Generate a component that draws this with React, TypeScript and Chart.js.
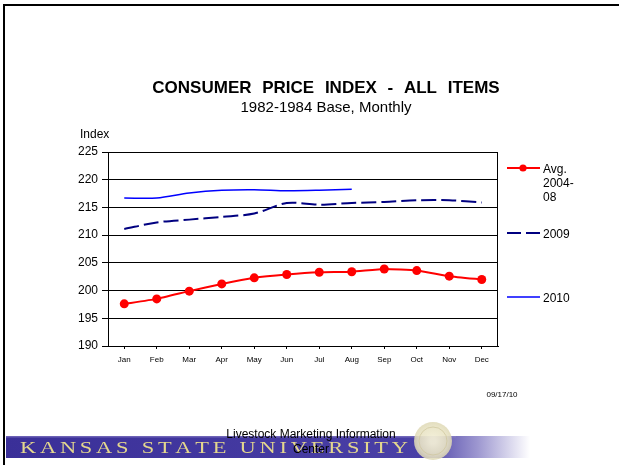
import React, { useEffect, useRef } from "react";
import { Chart, registerables } from "chart.js";

Chart.register(...registerables);

const months = ["Jan", "Feb", "Mar", "Apr", "May", "Jun", "Jul", "Aug", "Sep", "Oct", "Nov", "Dec"];
const avg0408 = [197.6, 198.5, 199.9, 201.2, 202.3, 202.9, 203.3, 203.4, 203.9, 203.6, 202.6, 202.0];
const cpi2009 = [211.1, 212.3, 212.8, 213.3, 213.9, 215.8, 215.5, 215.8, 216.0, 216.3, 216.3, 215.9];
const cpi2010 = [216.7, 216.7, 217.6, 218.1, 218.2, 218.0, 218.1, 218.3, null, null, null, null];
const yMin = 190;
const yMax = 225;
const yStep = 5;

const titleText = "CONSUMER PRICE INDEX - ALL ITEMS";
const subtitleText = "1982-1984 Base, Monthly";
const yAxisTitle = "Index";
const dateText = "09/17/10";
const centerLines = ["Livestock Marketing Information", "Center"];
const bannerText = "KANSAS STATE UNIVERSITY";
const legendItems = [
  { lines: ["Avg.", "2004-", "08"], color: "#ff0000", dash: [] as number[], width: 2, marker: true, y: 168 },
  { lines: ["2009"], color: "#000080", dash: [14, 5], width: 2, marker: false, y: 233 },
  { lines: ["2010"], color: "#0000ff", dash: [] as number[], width: 1.5, marker: false, y: 297 },
];

const FONT = '"Liberation Sans", Arial, Helvetica, sans-serif';
const SERIF = '"Liberation Serif", "Times New Roman", serif';

const decorPlugin = {
  id: "decor",
  beforeDraw(chart: any) {
    const ctx = chart.ctx as CanvasRenderingContext2D;
    ctx.save();
    ctx.fillStyle = "#ffffff";
    ctx.fillRect(0, 0, chart.width, chart.height);
    // frame
    ctx.strokeStyle = "#000";
    ctx.lineWidth = 2;
    ctx.beginPath();
    ctx.moveTo(619, 5);
    ctx.lineTo(4, 5);
    ctx.lineTo(4, 465);
    ctx.stroke();
    // banner
    const g = ctx.createLinearGradient(6, 0, 530, 0);
    g.addColorStop(0, "#3a2f98");
    g.addColorStop(0.8, "#4a40a6");
    g.addColorStop(0.9, "#9d97d0");
    g.addColorStop(1, "rgba(255,255,255,1)");
    ctx.fillStyle = g;
    ctx.fillRect(6, 436, 524, 22);
    ctx.fillStyle = "rgba(140,130,200,0.6)";
    ctx.fillRect(6, 436, 450, 1.5);
    // banner text, wide letters
    ctx.font = `16px ${SERIF}`;
    ctx.fillStyle = "#e4d78e";
    ctx.textBaseline = "alphabetic";
    ctx.textAlign = "left";
    const stretch = 1.4;
    const chars = bannerText.split("");
    const widths = chars.map((c) => ctx.measureText(c).width * stretch);
    const total = widths.reduce((a, b) => a + b, 0);
    const startX = 20;
    const endX = 408;
    const sp = (endX - startX - total) / (chars.length - 1);
    let x = startX;
    chars.forEach((c, i) => {
      ctx.save();
      ctx.translate(x, 453);
      ctx.scale(stretch, 1);
      ctx.fillText(c, 0, 0);
      ctx.restore();
      x += widths[i] + sp;
    });
    // seal
    const rg = ctx.createRadialGradient(433, 441, 3, 433, 441, 19);
    rg.addColorStop(0, "rgba(242,238,214,0.95)");
    rg.addColorStop(0.7, "rgba(232,227,196,0.9)");
    rg.addColorStop(1, "rgba(222,216,180,0.85)");
    ctx.fillStyle = rg;
    ctx.beginPath();
    ctx.arc(433, 441, 19, 0, Math.PI * 2);
    ctx.fill();
    ctx.strokeStyle = "rgba(205,197,155,0.7)";
    ctx.lineWidth = 1;
    ctx.beginPath();
    ctx.arc(433, 441, 14, 0, Math.PI * 2);
    ctx.stroke();
    ctx.restore();
  },
  afterDraw(chart: any) {
    const ctx = chart.ctx as CanvasRenderingContext2D;
    const area = chart.chartArea;
    ctx.save();
    // plot border
    ctx.strokeStyle = "#000";
    ctx.lineWidth = 1;
    ctx.strokeRect(area.left + 0.5, area.top + 0.5, area.right - area.left - 1, area.bottom - area.top);
    ctx.fillStyle = "#000";
    ctx.textAlign = "center";
    ctx.textBaseline = "middle";
    ctx.font = `bold 17px ${FONT}`;
    (ctx as any).wordSpacing = "6px";
    ctx.fillText(titleText, 326, 88);
    (ctx as any).wordSpacing = "0px";
    ctx.font = `15px ${FONT}`;
    ctx.fillText(subtitleText, 326, 108);
    ctx.textAlign = "left";
    ctx.font = `12px ${FONT}`;
    ctx.fillText(yAxisTitle, 80, 135);
    ctx.textAlign = "center";
    ctx.font = `8px ${FONT}`;
    ctx.fillText(dateText, 502, 395);
    ctx.font = `12px ${FONT}`;
    ctx.fillText(centerLines[0], 311, 435);
    ctx.fillText(centerLines[1], 311, 450);
    // legend
    ctx.textAlign = "left";
    legendItems.forEach((it) => {
      ctx.strokeStyle = it.color;
      ctx.lineWidth = it.width;
      ctx.setLineDash(it.dash);
      ctx.beginPath();
      ctx.moveTo(507, it.y);
      ctx.lineTo(540, it.y);
      ctx.stroke();
      ctx.setLineDash([]);
      if (it.marker) {
        ctx.fillStyle = it.color;
        ctx.beginPath();
        ctx.arc(523, it.y, 3.6, 0, Math.PI * 2);
        ctx.fill();
      }
      ctx.fillStyle = "#000";
      ctx.font = `12px ${FONT}`;
      it.lines.forEach((ln, i) => {
        ctx.fillText(ln, 543, it.y + 2 + i * 14);
      });
    });
    ctx.restore();
  },
};

export default function App() {
  const ref = useRef<HTMLCanvasElement | null>(null);
  useEffect(() => {
    if (!ref.current) return;
    const chart = new Chart(ref.current, {
      type: "line",
      data: {
        labels: months,
        datasets: [
          {
            label: "Avg. 2004-08",
            data: avg0408,
            borderColor: "#ff0000",
            backgroundColor: "#ff0000",
            borderWidth: 2,
            pointRadius: 4.5,
            pointBackgroundColor: "#ff0000",
            pointBorderWidth: 0,
            tension: 0.15,
          },
          {
            label: "2009",
            data: cpi2009,
            borderColor: "#000080",
            borderWidth: 2,
            borderDash: [15, 5],
            pointRadius: 0,
            tension: 0.3,
          },
          {
            label: "2010",
            data: cpi2010,
            borderColor: "#0000ff",
            borderWidth: 1.5,
            pointRadius: 0,
            tension: 0.3,
            spanGaps: false,
          },
        ],
      },
      options: {
        animation: false,
        responsive: false,
        maintainAspectRatio: false,
        layout: { padding: { left: 0, top: 152, right: 121, bottom: 99 } },
        plugins: {
          legend: { display: false },
          title: { display: false },
          tooltip: { enabled: false },
        },
        scales: {
          x: {
            offset: true,
            afterFit: (s: any) => {
              s.height = 20;
            },
            grid: {
              display: true,
              drawOnChartArea: false,
              drawTicks: true,
              tickLength: 3,
              color: "#000",
            },
            border: { display: true, color: "#000", width: 1 },
            ticks: {
              color: "#000",
              font: { family: FONT, size: 8 },
              padding: 6,
              maxRotation: 0,
              autoSkip: false,
            },
          },
          y: {
            min: yMin,
            max: yMax,
            afterFit: (s: any) => {
              s.width = 108;
            },
            grid: {
              color: "#000",
              lineWidth: 1,
              drawTicks: true,
              tickLength: 6,
            },
            border: { display: true, color: "#000", width: 1 },
            ticks: {
              stepSize: yStep,
              color: "#000",
              font: { family: FONT, size: 12 },
              padding: 4,
            },
          },
        },
      },
      plugins: [decorPlugin],
    });
    return () => chart.destroy();
  }, []);
  return (
    <div style={{ position: "fixed", left: 0, top: 0, width: 619, height: 465, background: "#fff" }}>
      <canvas ref={ref} width={619} height={465} style={{ width: 619, height: 465, display: "block" }} />
    </div>
  );
}
